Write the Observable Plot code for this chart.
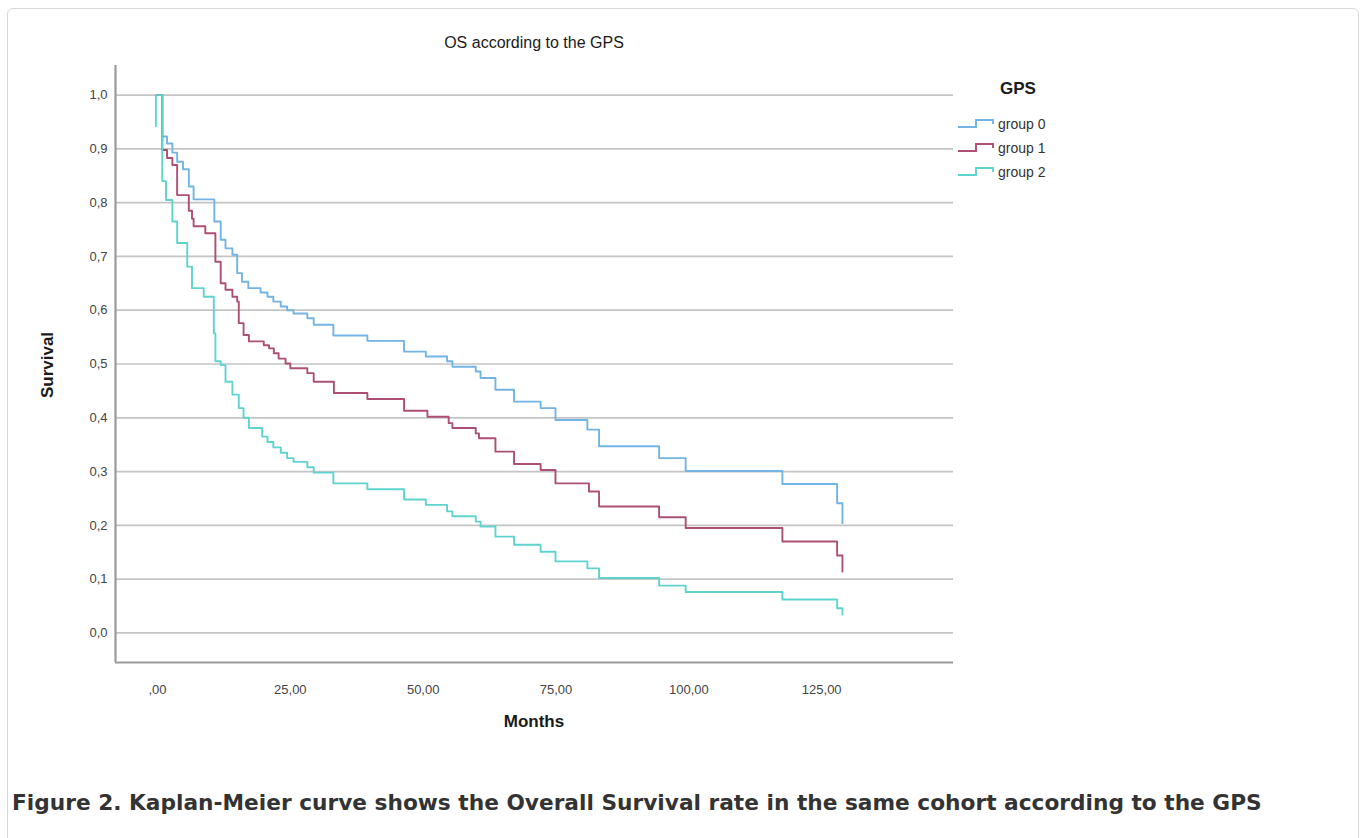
<!DOCTYPE html>
<html>
<head>
<meta charset="utf-8">
<script src="https://cdn.jsdelivr.net/npm/d3@7"></script>
<script src="https://cdn.jsdelivr.net/npm/@observablehq/plot@0.6"></script>
<style>
  html, body { margin: 0; padding: 0; background: #fff; }
  body { width: 1368px; height: 838px; position: relative; overflow: hidden; font-family: "Liberation Sans", Arial, sans-serif; }
  .card { position: absolute; left: 7px; top: 8px; width: 1352px; height: 900px; border: 1px solid #d9d9d9; border-radius: 6px; box-sizing: border-box; }
  #chart { position: absolute; left: 0; top: 0; }
  .title { position: absolute; left: 334px; width: 400px; top: 34px; text-align: center; font-size: 16px; color: #1a1a1a; }
  .ylab { position: absolute; left: 48px; top: 365px; transform: translate(-50%, -50%) rotate(-90deg); font-size: 17px; font-weight: bold; color: #1a1a1a; white-space: nowrap; }
  .xlab { position: absolute; left: 334px; width: 400px; top: 712px; text-align: center; font-size: 17px; font-weight: bold; color: #1a1a1a; }
  .legend { position: absolute; left: 957px; top: 79px; }
  .legend .lt { font-size: 17px; font-weight: bold; color: #1a1a1a; margin-left: 43px; height: 33px; }
  .legend .item { display: flex; align-items: center; height: 24px; font-size: 14px; color: #333; }
  .legend svg { margin-right: 3px; }
  .caption { position: absolute; left: 12px; top: 790px; font-family: "DejaVu Sans", sans-serif; font-weight: bold; font-size: 21.7px; color: #333; white-space: nowrap; }
</style>
</head>
<body>
<div class="card"></div>
<div id="chart"></div>
<div class="title" id="title"></div>
<div class="ylab" id="ylab"></div>
<div class="xlab" id="xlab"></div>
<div class="legend" id="legend"></div>
<div class="caption" id="caption"></div>
<script>
// ---------- data ----------
const chartTitle = "OS according to the GPS";
const xLabel = "Months";
const yLabel = "Survival";
const legendTitle = "GPS";
const captionText = "Figure 2. Kaplan-Meier curve shows the Overall Survival rate in the same cohort according to the GPS";

const groups = ["group 0", "group 1", "group 2"];
const groupColors = ["#72b4e4", "#ad4f75", "#5fd4cf"];

const xTicks = [0, 25, 50, 75, 100, 125];
const xTickLabels = [",00", "25,00", "50,00", "75,00", "100,00", "125,00"];
const yTicks = [0, 0.1, 0.2, 0.3, 0.4, 0.5, 0.6, 0.7, 0.8, 0.9, 1.0];
const yTickLabels = ["0,0", "0,1", "0,2", "0,3", "0,4", "0,5", "0,6", "0,7", "0,8", "0,9", "1,0"];

// group 0 (step times in months, survival after the step)
const g0Months = [0, 0.9, 1.8, 2.8, 3.7, 4.8, 5.9, 6.8, 10.7, 11.9, 12.8, 14.1, 15.0, 15.9, 17.1, 19.4, 20.7, 21.8, 23.2, 24.4, 25.6, 28.2, 29.4, 33.1, 39.5, 46.4, 50.5, 54.5, 55.5, 59.9, 60.8, 63.6, 67.1, 72.1, 74.9, 80.9, 83.1, 94.4, 99.4, 117.6, 127.9, 128.9];
const g0Surv   = [1.0, 0.923, 0.91, 0.893, 0.876, 0.862, 0.83, 0.806, 0.765, 0.731, 0.715, 0.703, 0.669, 0.653, 0.641, 0.633, 0.625, 0.616, 0.607, 0.600, 0.594, 0.585, 0.573, 0.553, 0.543, 0.523, 0.514, 0.505, 0.495, 0.486, 0.474, 0.452, 0.430, 0.418, 0.396, 0.378, 0.347, 0.325, 0.301, 0.277, 0.241, 0.204];

// group 1
const g1Months = [0, 0.9, 1.8, 2.8, 3.7, 5.9, 6.5, 6.8, 9.0, 10.9, 11.9, 12.8, 14.1, 15.0, 15.3, 16.2, 17.2, 20.0, 21.0, 21.9, 22.8, 24.1, 25.0, 28.2, 29.4, 33.2, 39.5, 46.4, 50.8, 54.8, 55.5, 59.9, 60.5, 63.6, 67.1, 72.1, 74.9, 81.2, 83.1, 94.4, 99.4, 117.6, 127.9, 128.9];
const g1Surv   = [1.0, 0.898, 0.883, 0.870, 0.814, 0.785, 0.770, 0.756, 0.743, 0.690, 0.650, 0.638, 0.625, 0.616, 0.576, 0.554, 0.542, 0.535, 0.529, 0.520, 0.510, 0.501, 0.492, 0.483, 0.467, 0.446, 0.435, 0.413, 0.402, 0.390, 0.381, 0.371, 0.362, 0.337, 0.314, 0.303, 0.278, 0.263, 0.235, 0.215, 0.195, 0.170, 0.144, 0.114];

// group 2
const g2Months = [0, 0.9, 1.6, 2.8, 3.7, 5.6, 6.5, 8.7, 10.6, 10.9, 11.9, 12.8, 14.1, 15.3, 16.2, 17.2, 19.7, 20.7, 21.8, 23.2, 24.4, 25.6, 28.2, 29.4, 33.1, 39.5, 46.4, 50.5, 54.5, 55.5, 59.9, 60.8, 63.6, 67.1, 72.1, 74.9, 80.9, 83.1, 94.4, 99.4, 117.6, 127.9, 128.9];
const g2Surv   = [1.0, 0.840, 0.805, 0.765, 0.725, 0.681, 0.641, 0.625, 0.557, 0.505, 0.498, 0.467, 0.443, 0.418, 0.400, 0.381, 0.365, 0.355, 0.345, 0.335, 0.325, 0.318, 0.308, 0.298, 0.278, 0.267, 0.248, 0.238, 0.226, 0.217, 0.207, 0.198, 0.179, 0.164, 0.151, 0.133, 0.120, 0.102, 0.088, 0.076, 0.062, 0.046, 0.034];

// short initial segment drawn for group 2 at time ~0
const g2StartMonth = -0.3;
const g2StartFrom = 1.0;
const g2StartTo = 0.94;

const xDomain = [-7.9, 149.8];
const yDomain = [-0.055, 1.055];

// ---------- build ----------
const rows = [];
[[g0Months, g0Surv], [g1Months, g1Surv], [g2Months, g2Surv]].forEach(([m, s], gi) => {
  m.forEach((t, i) => rows.push({group: groups[gi], t, s: s[i]}));
});
const startSeg = [{group: groups[2], t: g2StartMonth, y1: g2StartFrom, y2: g2StartTo}];

const plot = Plot.plot({
  width: 1000,
  height: 700,
  marginLeft: 115,
  marginRight: 47,
  marginTop: 65,
  marginBottom: 38,
  style: {fontFamily: "'Liberation Sans', Arial, sans-serif", fontSize: "13px", color: "#444", background: "transparent"},
  x: {domain: xDomain},
  y: {domain: yDomain},
  color: {domain: groups, range: groupColors},
  marks: [
    Plot.gridY(yTicks, {stroke: "#c4c4c4", strokeOpacity: 1, strokeWidth: 1.7}),
    Plot.axisY(yTicks, {tickSize: 0, tickPadding: 8, label: null, fontSize: 13, fill: "#444",
      tickFormat: (d) => yTickLabels[yTicks.findIndex(v => Math.abs(v - d) < 1e-9)]}),
    Plot.axisX(xTicks, {tickSize: 0, tickPadding: 22, label: null, fontSize: 13, fill: "#444",
      tickFormat: (d) => xTickLabels[xTicks.indexOf(d)]}),
    Plot.ruleX([xDomain[0]], {stroke: "#9a9a9a", strokeWidth: 2.2}),
    Plot.ruleY([yDomain[0]], {stroke: "#9a9a9a", strokeWidth: 2.2}),
    Plot.ruleX(startSeg, {x: "t", y1: "y1", y2: "y2", stroke: "group", strokeWidth: 1.9}),
    Plot.line(rows, {x: "t", y: "s", z: "group", stroke: "group", curve: "step-after", strokeWidth: 1.9})
  ]
});
document.getElementById("chart").appendChild(plot);

document.getElementById("title").textContent = chartTitle;
document.getElementById("ylab").textContent = yLabel;
document.getElementById("xlab").textContent = xLabel;
document.getElementById("caption").textContent = captionText;

const leg = document.getElementById("legend");
const lt = document.createElement("div");
lt.className = "lt";
lt.textContent = legendTitle;
leg.appendChild(lt);
groups.forEach((g, i) => {
  const item = document.createElement("div");
  item.className = "item";
  item.innerHTML = `<svg width="38" height="14"><path d="M1,10 H19 V3 H36 V7" fill="none" stroke="${groupColors[i]}" stroke-width="1.9"/></svg><span>${g}</span>`;
  leg.appendChild(item);
});
</script>
</body>
</html>
